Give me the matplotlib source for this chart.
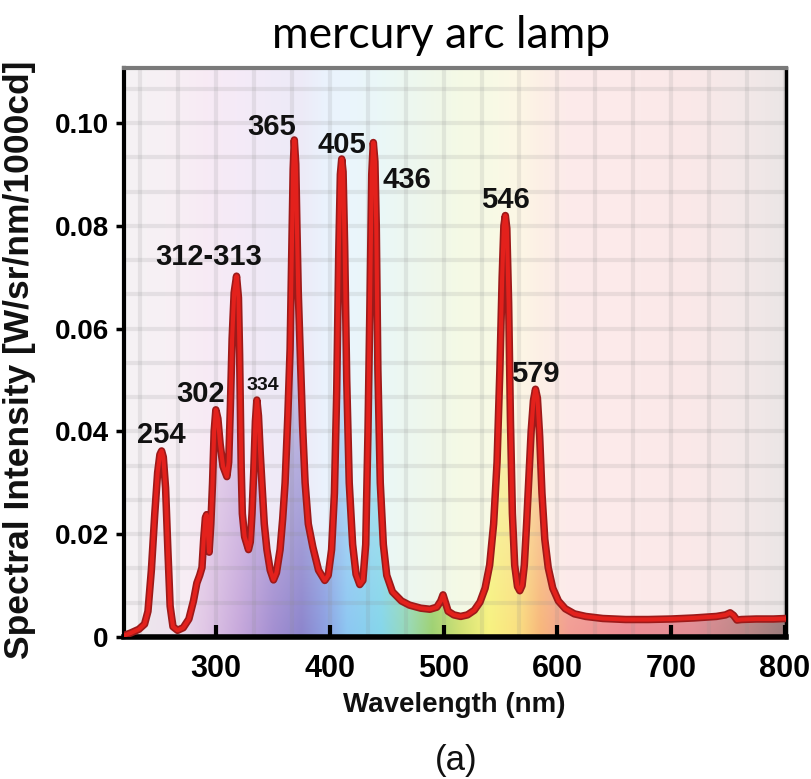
import numpy as np
import matplotlib
matplotlib.use("Agg")
import matplotlib.pyplot as plt
from matplotlib import font_manager
from matplotlib.ticker import MultipleLocator

# ---------------- data ----------------
wavelength = [219, 225, 232, 237, 240, 243, 246, 248.5, 250.5, 252, 253.5, 255.5, 257.5, 259.5,
              262, 266, 271, 276, 280, 283, 285.5, 287.5, 289, 290.5, 291.6, 292.8, 293.8,
              295.3, 296.8, 298.2, 299.7, 301.5, 303.5, 306, 309.4, 311, 312.5, 314, 315.8,
              317.9, 319.6, 320.6, 321.2, 322, 323, 325, 328.4, 330, 331.5, 333, 334.5, 335.8,
              337.2, 338.7, 340.2, 342.3, 344.6, 347.5, 350.4, 353, 356.2, 358.5, 360.6, 363,
              365, 366.5, 367.7, 368.7, 370, 371, 372.2, 373.8, 376, 378.2, 381, 385, 390,
              395.5, 398.5, 401.5, 404, 406, 407.8, 409.2, 410.4, 411.6, 413, 414.8, 417, 420,
              423, 426.3, 429, 431.5, 433.5, 435.3, 436.8, 438.2, 439.6, 440.8, 442.2, 444.3,
              447, 450, 455, 463, 470, 480, 488, 494, 497.5, 499.5, 501.5, 504, 509, 515, 521,
              527, 532, 536.5, 540.5, 544, 547, 549.5, 551.5, 553, 554.3, 555.6, 557.2, 558.8,
              560.5, 562.5, 565, 567, 569, 571, 573, 575, 577, 579, 580.8, 582.5, 584.5, 586.5,
              589, 592, 596, 601, 607, 615, 625, 640, 660, 680, 700, 720, 740, 748, 752, 755,
              758, 762, 775, 790, 801]
intensity = [0.0003, 0.0008, 0.0015, 0.0025, 0.0050, 0.0130, 0.0240, 0.0320, 0.0355, 0.0362,
             0.0350, 0.0290, 0.0170, 0.0060, 0.0020, 0.0013, 0.0018, 0.0035, 0.0070, 0.0105,
             0.0120, 0.0135, 0.0190, 0.0232, 0.0238, 0.0200, 0.0165, 0.0220, 0.0300, 0.0400,
             0.0442, 0.0425, 0.0375, 0.0332, 0.0312, 0.0340, 0.0450, 0.0580, 0.0670, 0.0702,
             0.0660, 0.0550, 0.0450, 0.0330, 0.0240, 0.0195, 0.0170, 0.0185, 0.0240, 0.0320,
             0.0420, 0.0461, 0.0430, 0.0360, 0.0300, 0.0220, 0.0170, 0.0130, 0.0111, 0.0125,
             0.0170, 0.0230, 0.0300, 0.0430, 0.0560, 0.0750, 0.0910, 0.0967, 0.0920, 0.0800,
             0.0670, 0.0560, 0.0410, 0.0300, 0.0220, 0.0175, 0.0130, 0.0110, 0.0120, 0.0170,
             0.0280, 0.0480, 0.0750, 0.0900, 0.0930, 0.0905, 0.0760, 0.0500, 0.0300, 0.0180,
             0.0122, 0.0102, 0.0110, 0.0180, 0.0400, 0.0660, 0.0900, 0.0962, 0.0925, 0.0800,
             0.0520, 0.0300, 0.0180, 0.0120, 0.0088, 0.0070, 0.0062, 0.0056, 0.0054, 0.0058,
             0.0070, 0.0082, 0.0068, 0.0050, 0.0043, 0.0040, 0.0043, 0.0052, 0.0068, 0.0095,
             0.0140, 0.0220, 0.0340, 0.0520, 0.0700, 0.0800, 0.0820, 0.0795, 0.0650, 0.0420,
             0.0240, 0.0140, 0.0098, 0.0090, 0.0100, 0.0140, 0.0220, 0.0310, 0.0400, 0.0460,
             0.0482, 0.0465, 0.0390, 0.0280, 0.0190, 0.0135, 0.0095, 0.0070, 0.0055, 0.0045,
             0.0040, 0.0036, 0.0034, 0.0034, 0.0035, 0.0037, 0.0040, 0.0043, 0.0047, 0.0042,
             0.0033, 0.0034, 0.0035, 0.0035, 0.0036]

peak_labels = ["254", "302", "334", "312-313", "365", "405", "436", "546", "579"]
label_x = [251.7, 285.9, 341.3, 293.0, 349.2, 410.7, 467.6, 554.4, 580.8]
label_y = [0.0377, 0.0457, 0.0481, 0.0724, 0.0977, 0.0942, 0.0874, 0.0835, 0.0496]
label_size = [21, 21, 14, 21, 21, 21, 21, 21, 21]

x_ticks = [300, 400, 500, 600, 700, 800]
y_ticks = [0, 0.02, 0.04, 0.06, 0.08, 0.10]
y_tick_labels = ["0", "0.02", "0.04", "0.06", "0.08", "0.10"]

title = "mercury arc lamp"
x_label = "Wavelength (nm)"
y_label = "Spectral Intensity [W/sr/nm/1000cd]"
panel = "(a)"

# spectral colour stops (style)
stop_nm = [219, 260, 290, 320, 350, 375, 395, 415, 445, 470, 490, 515, 540, 565, 585,
           610, 660, 720, 770, 801]
stop_strong = [(0.93, 0.92, 0.93), (0.93, 0.88, 0.93), (0.88, 0.78, 0.90), (0.78, 0.66, 0.86),
               (0.64, 0.56, 0.82), (0.55, 0.52, 0.80), (0.55, 0.62, 0.88), (0.55, 0.78, 0.95),
               (0.52, 0.84, 0.92), (0.60, 0.85, 0.70), (0.62, 0.82, 0.45), (0.82, 0.88, 0.45),
               (0.97, 0.95, 0.50), (0.98, 0.88, 0.50), (0.97, 0.72, 0.48), (0.95, 0.62, 0.58),
               (0.93, 0.55, 0.58), (0.88, 0.55, 0.58), (0.72, 0.52, 0.52), (0.60, 0.48, 0.48)]
stop_pale = [(0.96, 0.95, 0.96), (0.97, 0.94, 0.96), (0.97, 0.92, 0.96), (0.96, 0.92, 0.97),
             (0.94, 0.92, 0.97), (0.93, 0.92, 0.97), (0.92, 0.95, 0.99), (0.92, 0.96, 0.99),
             (0.92, 0.97, 0.97), (0.93, 0.97, 0.94), (0.94, 0.97, 0.92), (0.96, 0.98, 0.90),
             (0.97, 0.98, 0.90), (0.99, 0.97, 0.90), (0.99, 0.94, 0.90), (0.99, 0.92, 0.92),
             (0.99, 0.92, 0.92), (0.98, 0.91, 0.91), (0.95, 0.91, 0.91), (0.92, 0.90, 0.90)]

# ---------------- fonts ----------------
names = {f.name for f in font_manager.fontManager.ttflist}
NARROW = "Liberation Sans Narrow" if "Liberation Sans Narrow" in names else "Liberation Sans"
TITLE_FONT = "Lato" if "Lato" in names else "DejaVu Sans"

# ---------------- figure ----------------
fig = plt.figure(figsize=(8.11, 7.79), dpi=100)
ax = fig.add_axes([0.153, 0.1823, 0.816, 0.7304])
XMIN, XMAX, YMIN, YMAX = 219, 801, 0.0, 0.1107
ax.set_xlim(XMIN, XMAX)
ax.set_ylim(YMIN, YMAX)

# background gradient images
gx = np.linspace(XMIN, XMAX, 600)
gy = np.linspace(YMIN, YMAX, 300)
strong = np.stack([np.interp(gx, stop_nm, [c[i] for c in stop_strong]) for i in range(3)], axis=-1)
pale = np.stack([np.interp(gx, stop_nm, [c[i] for c in stop_pale]) for i in range(3)], axis=-1)
bg = np.broadcast_to(pale[None, :, :], (len(gy), len(gx), 3))
ax.imshow(bg, extent=(XMIN, XMAX, YMIN, YMAX), origin="lower", aspect="auto",
          zorder=0, interpolation="bilinear")
s = np.clip(0.12 + 0.88 * (1 - gy / 0.075), 0.12, 1.0)[:, None, None]
fillimg = pale[None, :, :] * (1 - s) + strong[None, :, :] * s
im = ax.imshow(fillimg, extent=(XMIN, XMAX, YMIN, YMAX), origin="lower", aspect="auto",
               zorder=0.1, interpolation="bilinear")
poly = ax.fill_between(wavelength, 0, intensity, facecolor="none", edgecolor="none")
im.set_clip_path(poly.get_paths()[0], transform=ax.transData)

# curve
ax.plot(wavelength, intensity, color="#9c1a1a", lw=5.4, solid_joinstyle="round",
        solid_capstyle="round", zorder=3)
ax.plot(wavelength, intensity, color="#e3211c", lw=3.0, solid_joinstyle="round",
        solid_capstyle="round", zorder=3.1)

# grid
ax.xaxis.set_minor_locator(MultipleLocator(100 / 3))
ax.yaxis.set_minor_locator(MultipleLocator(0.02 / 3))
ax.set_axisbelow(True)
ax.grid(which="both", color=(0.55, 0.55, 0.55), alpha=0.16, lw=3.0)

# ticks
ax.set_xticks(x_ticks)
ax.set_yticks(y_ticks)
ax.set_yticklabels(y_tick_labels)
ax.tick_params(axis="x", which="major", direction="in", length=9, width=3, pad=12,
               labelsize=22)
ax.tick_params(axis="y", which="major", direction="out", length=6, width=2.5, pad=5,
               labelsize=20)
ax.tick_params(which="minor", length=0)
for lab in ax.get_xticklabels() + ax.get_yticklabels():
    lab.set_fontfamily([NARROW, "Liberation Sans"])
    lab.set_fontweight("bold")

# spines
ax.spines["left"].set_linewidth(3)
ax.spines["bottom"].set_linewidth(4)
ax.spines["right"].set_linewidth(2.5)
ax.spines["top"].set_linewidth(3)
ax.spines["top"].set_color("#7a7a7a")
for k in ["left", "bottom", "right"]:
    ax.spines[k].set_color("black")

# peak labels
for t, lx, ly, fs in zip(peak_labels, label_x, label_y, label_size):
    ax.text(lx, ly, t, ha="center", va="baseline", fontsize=fs, fontweight="bold",
            family=[NARROW, "Liberation Sans"], color="#111111", zorder=5)

# titles / labels
fig.text(0.5438, 0.9384, title, ha="center", va="baseline", fontsize=32,
         family=[TITLE_FONT, "DejaVu Sans"], color="black")
fig.text(0.5604, 0.086, x_label, ha="center", va="baseline", fontsize=20,
         fontweight="bold", family=["Liberation Sans", "DejaVu Sans"], color="#111111")
fig.text(0.024, 0.538, y_label, ha="center", va="center", rotation=90, fontsize=25.5,
         fontweight="bold", family=["Liberation Sans", "DejaVu Sans"], color="#111111")
fig.text(0.5623, 0.0116, panel, ha="center", va="baseline", fontsize=25,
         family=["Liberation Sans", "DejaVu Sans"], color="#111111")

fig.savefig("out.png", dpi=100)
